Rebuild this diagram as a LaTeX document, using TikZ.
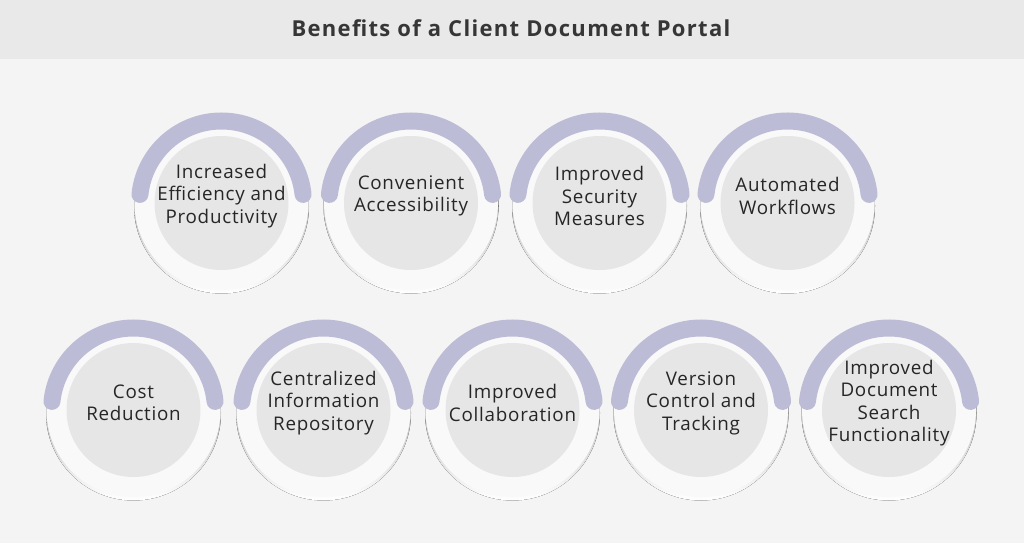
\documentclass[tikz,border=0pt]{standalone}
\usepackage{fontspec}
\setmainfont{Open Sans}
\definecolor{bg}{HTML}{F4F4F4}
\definecolor{band}{HTML}{E9E9E9}
\definecolor{arccol}{HTML}{BDBCD6}
\definecolor{inner}{HTML}{E6E6E6}
\definecolor{ring}{HTML}{F9F9F9}
\definecolor{shade}{HTML}{E0E0E0}
\definecolor{txtcol}{HTML}{262626}
\definecolor{titlecol}{HTML}{363636}
\tikzset{
  titletext/.style={font=\fontsize{22}{24}\selectfont\bfseries\addfontfeatures{LetterSpace=6}, text=titlecol},
  benefittext/.style={font=\fontsize{18.8}{22.5}\selectfont\addfontfeatures{LetterSpace=4}, text=txtcol, align=center, inner sep=0pt},
  innerdisc/.style={circle, fill=inner, minimum size=134, inner sep=0pt},
  purplearc/.style={draw=arccol, line width=17, line cap=round},
}
\newcommand{\benefit}[4]{%
  \fill[shade] (#2,#3+3) circle[radius=87.5];
  \fill[ring] (#2,#3) circle[radius=87];
  \draw[purplearc] (#2,#3) ++(186:82) arc[start angle=186, end angle=354, radius=82];
  \node[innerdisc] (c#1) at (#2,#3) {};
  \node[benefittext] (t#1) at ([yshift=7]c#1.center) {#4};
}
\begin{document}
\begin{tikzpicture}[x=1pt,y=-1pt]
\useasboundingbox (0,0) rectangle (1024,543);
\fill[bg] (0,0) rectangle (1024,543);
\fill[band] (0,0) rectangle (1024,59);
\node[titletext] (title) at (511,28) {Benefits of a Client Document Portal};
\benefit{1}{221.5}{203}{Increased\\Efficiency and\\Productivity}
\benefit{2}{411}{203}{Convenient\\Accessibility}
\benefit{3}{599.5}{203}{Improved\\Security\\Measures}
\benefit{4}{787.5}{203}{Automated\\Workflows}
\benefit{5}{133.5}{410}{Cost\\Reduction}
\benefit{6}{323.5}{410}{Centralized\\Information\\Repository}
\benefit{7}{512.5}{410}{Improved\\Collaboration}
\benefit{8}{701}{410}{Version\\Control and\\Tracking}
\benefit{9}{889}{410}{Improved\\Document\\Search\\Functionality}
\end{tikzpicture}
\end{document}
